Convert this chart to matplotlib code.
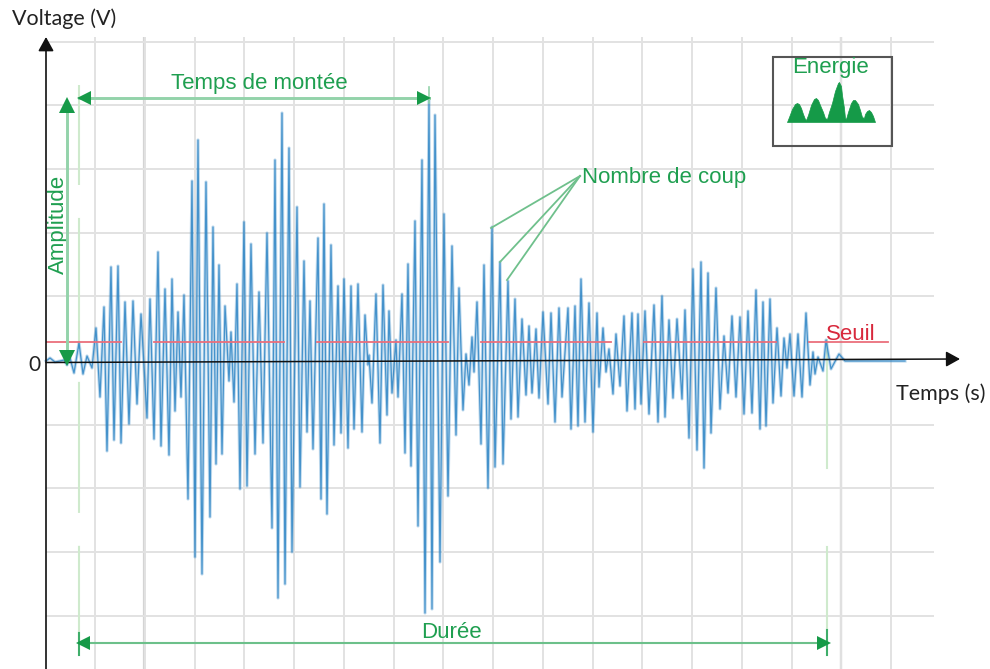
import matplotlib
matplotlib.use("Agg")
import matplotlib.pyplot as plt
from matplotlib.patches import Rectangle

# signal, peak by peak
temps = [0, 4, 9, 14, 18, 21, 24, 28, 33, 37, 41, 46, 50, 54, 58, 61, 65, 68, 72, 75, 79, 83, 87, 91, 95, 101,
         104, 108, 112, 115, 119, 123, 126, 129, 132, 135, 138, 142, 146, 149, 152, 156, 160, 164, 167, 170,
         173, 176, 179, 183, 185, 188, 191, 194, 198, 201, 205, 209, 213, 217, 221, 226, 229, 232, 236, 239,
         243, 246, 251, 254, 258, 261, 264, 267, 272, 275, 278, 281, 285, 288, 292, 295, 298, 302, 305, 308,
         312, 316, 319, 322, 323, 326, 330, 334, 337, 341, 343, 346, 350, 352, 356, 359, 362, 365, 369, 372,
         376, 379, 383, 386, 389, 394, 398, 402, 406, 410, 413, 417, 420, 423, 426, 428, 431, 435, 438, 442,
         446, 449, 454, 457, 462, 465, 469, 472, 476, 480, 483, 486, 490, 493, 497, 502, 505, 509, 513, 516,
         522, 525, 529, 532, 535, 539, 543, 547, 551, 553, 557, 560, 563, 567, 570, 574, 578, 581, 586, 589,
         592, 595, 599, 603, 608, 612, 616, 619, 623, 627, 631, 636, 639, 643, 647, 651, 655, 658, 662, 665,
         670, 674, 678, 682, 686, 690, 694, 698, 702, 706, 710, 714, 717, 720, 724, 727, 731, 735, 738, 741,
         744, 748, 752, 756, 760, 764, 767, 769, 772, 777, 780, 785, 793, 799, 859]
voltage = [0, 3, -1, 0, 1, -4, 3, -12, 18, -13, 5, -7, 33, -36, 54, -90, 94, -79, 95, -82, 59, -63, 60, -43, 47, -57,
           62, -78, 109, -85, 72, -94, 82, -50, 49, -36, 66, -138, 180, -196, 221, -213, 179, -156, 134, -103,
           96, -93, 55, -20, 29, -41, 77, -128, 139, -125, 117, -93, 69, -82, 128, -167, 201, -237, 248, -223,
           213, -191, 154, -126, 100, -71, 60, -88, 123, -138, 157, -153, 116, -84, 75, -72, 82, -87, 75, -68,
           77, -71, 46, -4, 6, -42, 67, -82, 76, -54, 50, -32, 21, -36, 67, -92, 97, -105, 140, -165,
           201, -252, 261, -248, 246, -201, 147, -135, 115, -74, 73, -49, 7, -24, 24, -11, 59, -83, 96, -127,
           134, -106, 99, -103, 80, -58, 62, -56, 42, -34, 35, -32, 32, -37, 49, -43, 48, -61, 53, -36,
           53, -68, 55, -65, 82, -61, 58, -71, 48, -26, 33, -11, 12, -33, 27, -25, 45, -50, 48, -48,
           47, -43, 50, -53, 56, -61, 65, -56, 41, -37, 42, -38, 51, -77, 92, -89, 99, -107, 88, -72,
           73, -48, 25, -32, 45, -36, 44, -53, 50, -52, 71, -68, 59, -65, 62, -42, 33, -35, 23, -7,
           27, -35, 27, -36, 48, -24, 9, -13, 4, -10, 21, -8, 7, 0, 0]

# threshold segments
seuil = 19
seuil_debut = [0, 108, 271, 435, 598, 763]
seuil_fin = [75, 238, 402, 565, 730, 842]

# energy thumbnail
energie_t = [741, 743, 746, 749, 751, 753, 755, 757, 759, 760, 762, 765, 768, 770, 772, 774, 777, 779, 781,
             783, 786, 789, 792, 793, 795, 796, 798, 799, 800, 802, 805, 807, 809, 812, 814, 816, 818,
             819, 821, 823, 825, 827, 829]
energie_v = [239, 244, 252, 257, 258, 257, 253, 247, 242, 241, 246, 256, 262, 263, 261, 256, 249, 243, 242,
             249, 258, 270, 278, 279, 275, 266, 253, 243, 242, 249, 258, 261, 261, 257, 251, 244, 243,
             247, 250, 251, 249, 245, 239]

grille_x = [49 + 49.75 * i for i in range(17)]
grille_y = [-255, -191, -127, -63.5, 65, 128, 192, 256, 319]
grille_x_fonce = [98, 795]

vert = "#1f9f50"
vert_fleche = "#169a48"
vert_clair = "#93d3aa"
vert_pale = "#cfeacd"
rouge = "#d8283c"
bleu = "#2f86c6"

fig = plt.figure(figsize=(9.9, 6.69), dpi=100)
ax = fig.add_axes([46 / 990, 1 - 669 / 669, 888 / 990, 632 / 669])
ax.set_xlim(0, 888)
ax.set_ylim(-308, 324)
for s in ax.spines.values():
    s.set_visible(False)

ax.set_xticks(grille_x)
ax.set_yticks(grille_y)
ax.set_xticklabels([])
ax.set_yticklabels([])
ax.tick_params(length=0)
ax.grid(color="#e2e2e2", lw=1.4, zorder=0)
ax.axvline(98, color="#d4d4d4", lw=1.6, zorder=0)
ax.axvline(795, color="#bdbdbd", lw=1.6, zorder=0)

# soft halo + core, the reference is a blurred screenshot
ax.plot(temps, voltage, color=bleu, lw=2.3, alpha=0.3, zorder=3, clip_on=False)
ax.plot(temps, voltage, color=bleu, lw=0.9, alpha=0.85, zorder=3, clip_on=False)

for a, b in zip(seuil_debut, seuil_fin):
    ax.plot([a, b], [seuil, seuil], color="#ea6f7c", lw=1.3, zorder=4)

# axes with arrows
tete = "-|>,head_width=0.47,head_length=0.85"
ax.annotate("", xy=(914, 2), xytext=(0, -1.5), annotation_clip=False, zorder=6,
            arrowprops=dict(arrowstyle=tete, color="#111111", lw=1.1, shrinkA=0, shrinkB=0))
ax.annotate("", xy=(0, 324), xytext=(0, -308), annotation_clip=False, zorder=6,
            arrowprops=dict(arrowstyle=tete, color="#111111", lw=1.2, shrinkA=0, shrinkB=0))

# dashed guides
ax.plot([33, 33], [276, -279], color=vert_pale, lw=1.5, zorder=2, ls=(14.9, (62.9, 15.8)), clip_on=False)
ax.plot([781, 781], [21, -107], color=vert_pale, lw=1.5, zorder=2)
ax.plot([781, 781], [-186, -269], color=vert_pale, lw=1.5, zorder=2)
ax.plot([383, 383], [274, 258], color=vert_clair, lw=1.2, zorder=5)

# arrow shafts, light green, with solid heads on top
ax.plot([33, 383], [263, 263], color=vert_clair, lw=2.1, zorder=5)
ax.plot([21, 21], [256, 3], color=vert_clair, lw=2.1, zorder=5)
ax.plot([33, 781], [-282, -282], color="#6cc08a", lw=1.5, zorder=5)
ax.plot([33, 33], [-272, -294], color="#3fae6a", lw=1.5, zorder=5)
ax.plot([781, 781], [-269, -294], color="#3fae6a", lw=1.5, zorder=5)
ax.plot([38], [263], marker="<", ms=9.5, color=vert_fleche, mew=0, zorder=6)
ax.plot([377.5], [263], marker=">", ms=9.5, color=vert_fleche, mew=0, zorder=6)
ax.plot([21], [256], marker="^", ms=11, color=vert_fleche, mew=0, zorder=6)
ax.plot([21], [3], marker="v", ms=11, color=vert_fleche, mew=0, zorder=6)
ax.plot([37], [-282], marker="<", ms=9.5, color=vert_fleche, mew=0, zorder=6)
ax.plot([777.5], [-282], marker=">", ms=9.5, color=vert_fleche, mew=0, zorder=6)

police = "Liberation Sans"
ax.text(213, 278, "Temps de montée", color=vert, fontsize=16, family=police, ha="center", va="center")
ax.text(12, 137, "Amplitude", color=vert, fontsize=16, family=police, ha="center", va="center", rotation=90)
ax.text(618.5, 184, "Nombre de coup", color=vert, fontsize=16, family=police, ha="center", va="center")
ax.text(405.5, -272, "Durée", color=vert, fontsize=16, family=police, ha="center", va="center")
ax.text(805, 27, "Seuil", color=rouge, fontsize=16, family=police, ha="center", va="center", zorder=7)
ax.text(785, 293, "Energie", color=vert, fontsize=16, family=police, ha="center", va="center", zorder=7)

# strokes to the counted peaks
for t_c, v_c in [(445, 133), (454, 99), (461, 81)]:
    ax.plot([534, t_c], [185, v_c], color="#6fc08c", lw=1.3, zorder=5)

ax.add_patch(Rectangle((727, 215), 119, 89, fill=False, edgecolor="#555555", lw=1.5, zorder=5))
ax.fill_between(energie_t, 239, energie_v, color="#159a48", lw=0.5, zorder=5)

# black labels around the plot
noir = "#222222"
ax.text(-12, -4, "0", fontsize=15, family="Lato", color=noir, ha="center", va="center", clip_on=False)
fig.text(12 / 990, 1 - 19 / 669, "Voltage (V)", fontsize=15.5, family="Lato", color=noir, va="center")
fig.text(896 / 990, 1 - 394 / 669, "Temps (s)", fontsize=15.5, family="Lato", color=noir, va="center")

fig.savefig("out.png", dpi=100)
